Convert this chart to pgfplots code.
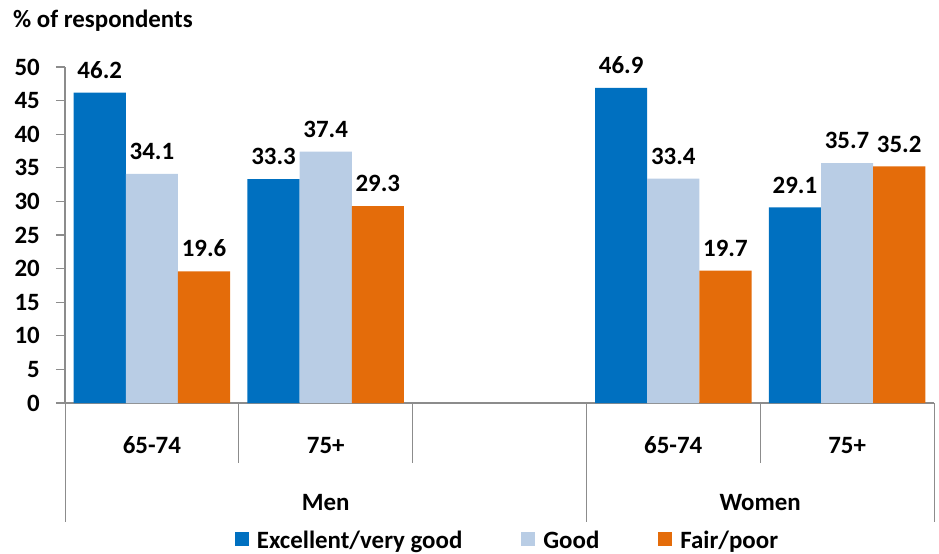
\documentclass[border=0pt]{standalone}
\usepackage{pgfplots}
\pgfplotsset{compat=1.18}
\usepackage{fontspec}
\setmainfont{Carlito}
\definecolor{cblue}{HTML}{0070C0}
\definecolor{clight}{HTML}{B9CDE5}
\definecolor{corange}{HTML}{E46C0A}
\definecolor{cgray}{HTML}{8C8C8C}
\begin{document}
\begin{tikzpicture}[font=\fontsize{25}{30}\selectfont\bfseries]
\begin{axis}[
  scale only axis, width=869bp, height=336bp,
  xmin=-0.5, xmax=4.5, ymin=0, ymax=50,
  axis x line=bottom, axis y line=left,
  axis line style={-, cgray, line width=1.2bp},
  ytick={0,5,...,50},
  tick align=outside,
  major tick length=9bp,
  y tick style={cgray, line width=1.2bp},
  xtick=\empty,
  yticklabel style={font=\fontsize{25}{30}\selectfont\bfseries, inner sep=0pt, xshift=-16bp},
  /pgf/number format/assume math mode=true,
  ybar, bar width=0.3,
  clip=false,
  nodes near coords={\pgfmathprintnumber[fixed,fixed zerofill,precision=1,assume math mode=true]{\pgfplotspointmeta}},
  every node near coord/.append style={font=\fontsize{25}{30}\selectfont\bfseries, anchor=south, inner sep=0pt, yshift=14bp, text=black},
  legend columns=3,
  legend style={at={(0.5,0)}, anchor=north, xshift=8bp, yshift=-126bp, draw=none, inner sep=0pt,
    font=\fontsize{25}{30}\selectfont\bfseries,
    /tikz/every even column/.append style={column sep=57bp},
    /tikz/every odd column/.append style={column sep=6bp}},
  legend image code/.code={\fill[#1] (0bp,-5bp) rectangle (14bp,9bp);},
]
\addplot[fill=cblue, draw=none, bar shift=-0.3] coordinates {(0,46.2) (1,33.3) (3,46.9) (4,29.1)};
\addplot[fill=clight, draw=none, bar shift=0] coordinates {(0,34.1) (1,37.4) (3,33.4) (4,35.7)};
\addplot[fill=corange, draw=none, bar shift=0.3] coordinates {(0,19.6) (1,29.3) (3,19.7) (4,35.2)};
\legend{Excellent/very good, Good, Fair/poor}
\coordinate (O) at (axis cs:-0.5,0);
\draw[cgray, line width=1bp] (axis cs:-0.5,0) -- ++(0bp,-119bp);
\draw[cgray, line width=1bp] (axis cs:2.5,0) -- ++(0bp,-119bp);
\draw[cgray, line width=1bp] (axis cs:4.5,0) -- ++(0bp,-119bp);
\draw[cgray, line width=1bp] (axis cs:0.5,0) -- ++(0bp,-60bp);
\draw[cgray, line width=1bp] (axis cs:1.5,0) -- ++(0bp,-60bp);
\draw[cgray, line width=1bp] (axis cs:3.5,0) -- ++(0bp,-60bp);
\node[anchor=base, yshift=-50bp] at (axis cs:0,0) {65-74};
\node[anchor=base, yshift=-50bp] at (axis cs:1,0) {75+};
\node[anchor=base, yshift=-50bp] at (axis cs:3,0) {65-74};
\node[anchor=base, yshift=-50bp] at (axis cs:4,0) {75+};
\node[anchor=base, yshift=-107bp] at (axis cs:1,0) {Men};
\node[anchor=base, yshift=-107bp] at (axis cs:3.5,0) {Women};
\node[anchor=base west, inner sep=0pt, xshift=-52bp, yshift=375bp] at (axis cs:-0.5,0) {\% of respondents};
\end{axis}
\pgfresetboundingbox
\path (O) ++(-65bp,-151bp) rectangle ++(939bp,554bp);
\end{tikzpicture}
\end{document}
